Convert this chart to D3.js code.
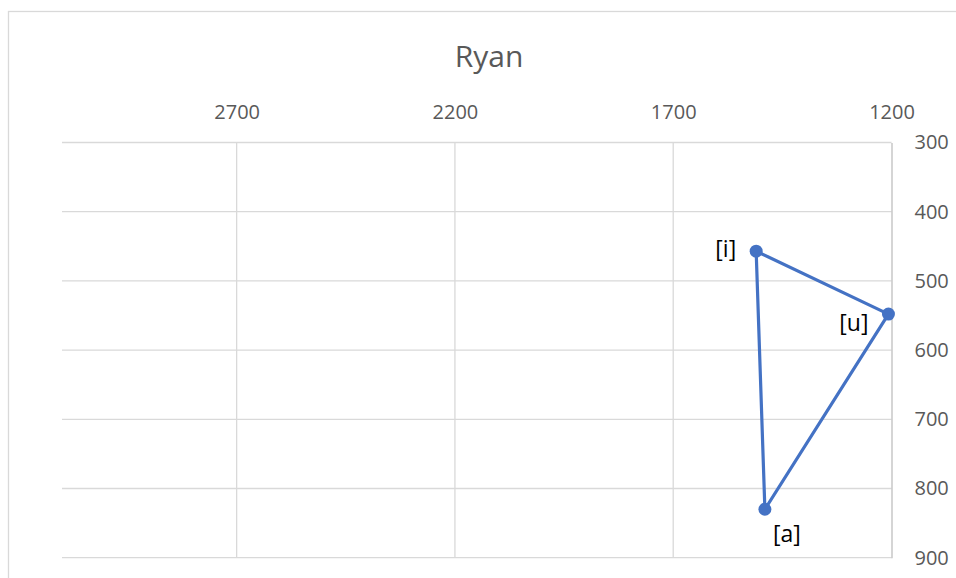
<!DOCTYPE html>
<html>
<head>
<meta charset="utf-8">
<script src="https://cdn.jsdelivr.net/npm/d3@7"></script>
<style>
  html, body { margin: 0; padding: 0; background: #fff; }
  svg { display: block; font-family: "Open Sans", sans-serif; }
</style>
</head>
<body>
<svg id="chart" width="956" height="578"></svg>
<script>
// ---- data ----
const title = "Ryan";
const vowels = ["[i]", "[u]", "[a]", "[i]"];       // closed polygon order
const f2Values = [1510, 1207, 1490, 1510];           // x (F2, Hz)
const f1Values = [457, 548, 830, 457];               // y (F1, Hz)
const xTicks = [2700, 2200, 1700, 1200];
const yTicks = [300, 400, 500, 600, 700, 800, 900];
const labelPlacement = ["left", "left", "below"];

// ---- layout ----
const plot = { left: 62, right: 891.5, top: 142.5, bottom: 557.7 };
const svg = d3.select("#chart");

// chart-area border (cropped at right/bottom)
svg.append("rect").attr("x", 8.5).attr("y", 11.5).attr("width", 1000).attr("height", 1000)
  .attr("fill", "#fff").attr("stroke", "#d9d9d9").attr("stroke-width", 1.3);

const x = d3.scaleLinear().domain([3100, 1200]).range([plot.left, plot.right]);
const y = d3.scaleLinear().domain([300, 900]).range([plot.top, plot.bottom]);

// gridlines
const g = svg.append("g");
g.selectAll("line.v").data(xTicks.filter(d => d !== 1200)).join("line")
  .attr("x1", d => x(d)).attr("x2", d => x(d))
  .attr("y1", plot.top).attr("y2", plot.bottom)
  .attr("stroke", "#d9d9d9").attr("stroke-width", 1.3);
g.selectAll("line.h").data(yTicks).join("line")
  .attr("x1", plot.left).attr("x2", plot.right)
  .attr("y1", d => y(d)).attr("y2", d => y(d))
  .attr("stroke", "#d9d9d9").attr("stroke-width", 1.3);

// top x axis
const xAxis = d3.axisTop(x).tickValues(xTicks).tickSize(0).tickPadding(24).tickFormat(d3.format("d"));
const xa = svg.append("g").attr("transform", `translate(0,${plot.top})`).call(xAxis);
xa.select(".domain").remove();
xa.selectAll("text").attr("fill", "#595959").style("font-size", "20px").style("font-family", "Open Sans");

// right y axis
const yAxis = d3.axisRight(y).tickValues(yTicks).tickSize(0).tickPadding(23).tickFormat(d3.format("d"));
const ya = svg.append("g").attr("transform", `translate(${plot.right},0)`).call(yAxis);
ya.select(".domain").attr("stroke", "#bfbfbf").attr("stroke-width", 1.3);
ya.selectAll("text").attr("fill", "#595959").style("font-size", "20px").style("font-family", "Open Sans");

// title
svg.append("text").attr("x", 489).attr("y", 66.5).attr("text-anchor", "middle")
  .attr("fill", "#595959").style("font-size", "30px").text(title);

// series
const pts = vowels.map((v, i) => ({ v, fx: f2Values[i], fy: f1Values[i] }));
svg.append("path").datum(pts)
  .attr("d", d3.line().x(d => x(d.fx)).y(d => y(d.fy)))
  .attr("fill", "none").attr("stroke", "#4472c4").attr("stroke-width", 3.2)
  .attr("stroke-linejoin", "round");

const uniq = pts.slice(0, 3);
svg.selectAll("circle.pt").data(uniq).join("circle")
  .attr("cx", d => x(d.fx)).attr("cy", d => y(d.fy)).attr("r", 6.5)
  .attr("fill", "#4472c4");

// data labels
const place = {
  left:  { dx: -20, dy: 0, anchor: "end" },
  below: { dx: 22, dy: 27, anchor: "middle" }
};
svg.selectAll("text.lbl").data(uniq).join("text")
  .attr("class", "lbl")
  .attr("x", (d, i) => x(d.fx) + place[labelPlacement[i]].dx)
  .attr("y", (d, i) => y(d.fy) + place[labelPlacement[i]].dy + (i === 1 ? 8 : -3))
  .attr("text-anchor", (d, i) => place[labelPlacement[i]].anchor)
  .attr("dominant-baseline", "central")
  .attr("fill", "#000").style("font-size", "23px")
  .text(d => d.v);
</script>
</body>
</html>
